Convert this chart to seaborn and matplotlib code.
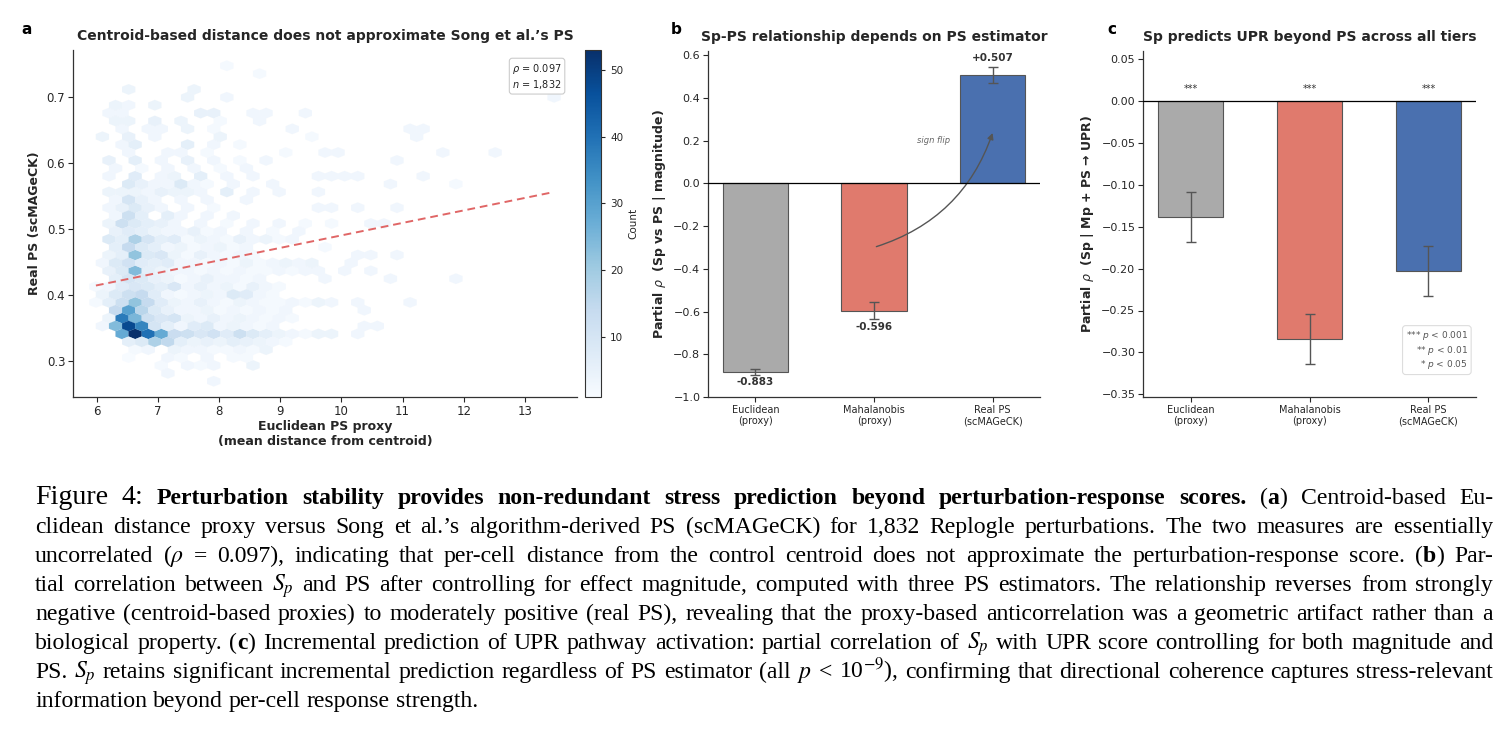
import numpy as np
import pandas as pd
import matplotlib
matplotlib.use("Agg")
import matplotlib.pyplot as plt
import seaborn as sns

# ------------------------------------------------------------------ data
# Panel a: hexbin cells: (y centre, x centres, counts)
HEX_ROWS = [
    (0.270, [7.91], [3]),
    (0.282, [7.16], [3]),
    (0.294, [7.05, 7.48, 7.69, 7.91, 8.55], [2, 3, 2, 3, 4]),
    (0.306, [6.52, 7.16, 7.37, 7.80, 8.23, 8.44], [1, 3, 2, 3, 2, 2]),
    (0.318, [6.62, 6.84, 7.27, 7.48, 7.69, 7.91, 8.12, 8.34, 8.55, 8.77],
     [2, 3, 4, 3, 3, 2, 2, 3, 2, 4]),
    (0.330, [6.52, 6.73, 6.94, 7.16, 7.37, 7.59, 7.80, 8.02, 8.23, 8.44, 8.66, 8.87, 9.09],
     [6, 8, 18, 15, 6, 4, 5, 4, 6, 5, 4, 3, 2]),
    (0.342, [6.41, 6.62, 6.84, 7.05, 7.27, 7.48, 7.69, 7.91, 8.12, 8.34, 8.55, 8.77, 8.98,
             9.19, 9.41, 9.62, 9.84, 10.27],
     [28, 53, 40, 28, 13, 12, 9, 11, 7, 12, 8, 6, 4, 3, 2, 4, 4, 3]),
    (0.354, [6.09, 6.30, 6.52, 6.73, 6.94, 7.16, 7.37, 7.59, 7.80, 8.02, 8.23, 8.44, 8.66,
             8.87, 10.37, 10.59],
     [3, 24, 48, 36, 10, 6, 3, 7, 8, 3, 4, 3, 2, 3, 3, 3]),
    (0.366, [6.19, 6.41, 6.62, 6.84, 7.05, 7.27, 7.48, 7.69, 7.91, 8.12, 8.34, 8.55, 8.77,
             8.98, 9.19],
     [4, 38, 25, 12, 9, 10, 4, 3, 5, 3, 4, 3, 2, 3, 2]),
    (0.378, [6.30, 6.52, 6.73, 6.94, 7.16, 7.37, 7.59, 7.80, 8.02, 8.23, 8.44, 8.66, 8.87,
             9.09, 10.37],
     [14, 30, 16, 8, 5, 3, 3, 4, 2, 3, 2, 3, 2, 3, 3]),
    (0.390, [5.98, 6.19, 6.41, 6.62, 6.84, 7.05, 7.27, 7.48, 7.69, 7.91, 8.12, 8.34, 8.55,
             8.77, 8.98, 9.19, 9.41, 9.62, 9.84, 10.27, 11.12],
     [2, 6, 12, 22, 14, 7, 4, 3, 5, 3, 2, 4, 3, 2, 2, 3, 2, 4, 3, 3, 3]),
    (0.401, [6.09, 6.30, 6.52, 6.73, 6.94, 7.16, 7.37, 7.59, 7.80, 8.02, 8.23, 8.44, 8.66, 8.87],
     [4, 8, 12, 14, 7, 3, 2, 3, 4, 3, 8, 7, 3, 2]),
    (0.413, [5.98, 6.19, 6.41, 6.62, 6.84, 7.05, 7.27, 7.48, 7.69, 7.91, 8.12, 8.34, 8.55,
             8.77, 8.98],
     [2, 3, 7, 9, 8, 6, 9, 3, 5, 3, 4, 2, 5, 3, 2]),
    (0.425, [6.30, 6.52, 6.73, 6.94, 7.16, 7.37, 7.59, 7.80, 8.02, 8.23, 8.44, 8.66, 9.73,
             10.80, 11.87],
     [6, 10, 8, 5, 4, 2, 3, 5, 3, 3, 2, 3, 3, 3, 3]),
    (0.437, [6.19, 6.41, 6.62, 6.84, 7.05, 7.27, 7.48, 7.69, 7.91, 8.12, 8.34, 8.55, 8.77,
             8.98, 9.19, 9.41, 9.62, 10.05, 10.48],
     [5, 8, 24, 6, 4, 3, 3, 2, 3, 2, 3, 2, 2, 3, 2, 3, 3, 3, 3]),
    (0.449, [6.09, 6.30, 6.52, 6.73, 6.94, 7.16, 7.37, 7.59, 7.80, 8.02, 8.23, 8.44, 8.66,
             8.87, 9.09, 9.30, 9.52, 10.16],
     [3, 8, 11, 7, 6, 7, 3, 3, 2, 3, 2, 4, 2, 3, 4, 3, 4, 3]),
    (0.461, [6.19, 6.41, 6.62, 6.84, 7.05, 7.27, 7.48, 7.69, 7.91, 8.12, 8.34, 8.55, 10.27,
             10.48, 10.91],
     [4, 6, 22, 8, 9, 4, 2, 5, 3, 2, 3, 2, 3, 3, 3]),
    (0.473, [6.30, 6.52, 6.73, 6.94, 7.16, 7.37, 7.59, 7.80, 8.02, 8.23, 8.44, 9.73],
     [6, 14, 8, 6, 3, 4, 2, 3, 4, 2, 3, 2]),
    (0.485, [6.19, 6.41, 6.62, 6.84, 7.05, 7.27, 7.48, 7.69, 7.91, 8.12, 8.34, 8.55, 8.77,
             8.98, 9.19],
     [8, 6, 18, 10, 6, 7, 2, 4, 3, 2, 5, 3, 4, 2, 3]),
    (0.497, [6.30, 6.52, 6.73, 6.94, 7.16, 7.37, 7.59, 7.80, 8.02, 8.44, 8.87, 9.30],
     [5, 7, 6, 4, 3, 3, 5, 2, 3, 3, 2, 3]),
    (0.509, [6.19, 6.41, 6.62, 6.84, 7.05, 7.27, 7.69, 8.12, 8.55, 8.98, 9.41, 9.84, 10.48, 10.69],
     [4, 12, 8, 6, 5, 3, 3, 2, 3, 3, 2, 2, 3, 3]),
    (0.521, [6.30, 6.52, 6.73, 7.16, 7.37, 7.80, 8.23], [3, 12, 6, 6, 3, 3, 3]),
    (0.533, [6.19, 6.41, 6.62, 6.84, 7.05, 7.48, 7.91, 9.62, 9.84, 10.27, 10.91],
     [3, 5, 8, 5, 3, 3, 2, 3, 3, 3, 3]),
    (0.545, [6.30, 6.52, 6.73, 6.94, 7.37, 7.80, 8.44], [3, 10, 5, 3, 3, 3, 3]),
    (0.557, [6.19, 6.41, 6.62, 6.84, 7.05, 7.27, 7.48, 7.69, 8.12, 8.55, 8.98, 9.62],
     [4, 4, 4, 3, 5, 4, 4, 3, 6, 3, 3, 3]),
    (0.569, [6.52, 6.73, 6.94, 7.16, 7.37, 7.59, 7.80, 8.23, 8.87, 10.80, 11.87],
     [8, 5, 3, 3, 8, 3, 2, 3, 3, 3, 2]),
    (0.581, [6.19, 6.62, 7.05, 7.27, 7.69, 8.12, 8.55, 9.62, 9.84, 10.05, 10.27, 11.34],
     [3, 7, 3, 4, 6, 3, 3, 3, 3, 3, 3, 3]),
    (0.593, [6.30, 6.73, 7.16, 7.59, 8.02, 8.44], [3, 2, 3, 3, 2, 3]),
    (0.605, [6.19, 6.62, 7.05, 7.48, 7.91, 8.34, 8.77, 10.91], [5, 6, 3, 5, 3, 2, 3, 3]),
    (0.617, [6.52, 7.16, 7.37, 7.80, 9.09, 9.73, 9.94, 11.66, 12.52], [3, 3, 3, 2, 2, 3, 3, 3, 3]),
    (0.629, [6.41, 6.62, 7.48, 7.91, 8.34], [3, 6, 6, 3, 2]),
    (0.640, [6.09, 6.52, 6.94, 8.02, 9.52, 11.23], [4, 5, 3, 4, 2, 3]),
    (0.652, [6.41, 6.84, 7.05, 7.48, 7.91, 9.19, 11.12, 11.34], [3, 3, 3, 4, 2, 3, 3, 3]),
    (0.664, [6.30, 6.52, 6.94, 7.37, 8.02, 8.66], [4, 4, 5, 4, 2, 3]),
    (0.676, [6.19, 6.41, 7.69, 7.91, 8.55, 8.77, 9.41], [3, 3, 5, 5, 3, 3, 3]),
    (0.688, [6.30, 6.52, 6.94], [4, 3, 4]),
    (0.700, [7.48, 8.12, 13.48], [4, 3, 3]),
    (0.712, [6.52, 7.59], [4, 4]),
    (0.736, [8.66], [2]),
    (0.748, [8.12], [2]),
]
hex_x = [x for y, xs, ns in HEX_ROWS for x in xs]
hex_y = [y for y, xs, ns in HEX_ROWS for x in xs]
hex_n = [n for y, xs, ns in HEX_ROWS for n in ns]

rho_a = 0.097
n_a = 1832
fit_intercept = 0.302
fit_slope = 0.0189

estimators = ["Euclidean\n(proxy)", "Mahalanobis\n(proxy)", "Real PS\n(scMAGeCK)"]
b_values = [-0.883, -0.596, 0.507]
b_err = [0.012, 0.040, 0.037]
b_labels = ["-0.883", "-0.596", "+0.507"]
c_values = [-0.139, -0.284, -0.203]
c_err = [0.030, 0.030, 0.030]
c_stars = ["***", "***", "***"]
b_ticks = [-1.0, -0.8, -0.6, -0.4, -0.2, 0.0, 0.2, 0.4, 0.6]
c_ticks = [-0.35, -0.30, -0.25, -0.20, -0.15, -0.10, -0.05, 0.0, 0.05]
bar_colors = ["#AAAAAA", "#E07A6D", "#4A70AF"]

CAPTION_LINES = [
    [("Figure 4:", "F"),
     (" Perturbation stability provides non-redundant stress prediction beyond perturbation-response scores.", "b"),
     (" (", "r"), ("a", "b"), (") Centroid-based Eu-", "r")],
    [("clidean distance proxy versus Song et al.’s algorithm-derived PS (scMAGeCK) for 1,832 Replogle perturbations.  The two measures are essentially", "r")],
    [("uncorrelated ($\\rho$ = 0.097), indicating that per-cell distance from the control centroid does not approximate the perturbation-response score. (", "r"),
     ("b", "b"), (") Par-", "r")],
    [("tial correlation between $S_p$ and PS after controlling for effect magnitude, computed with three PS estimators. The relationship reverses from strongly", "r")],
    [("negative (centroid-based proxies) to moderately positive (real PS), revealing that the proxy-based anticorrelation was a geometric artifact rather than a", "r")],
    [("biological property. (", "r"), ("c", "b"),
     (") Incremental prediction of UPR pathway activation: partial correlation of $S_p$ with UPR score controlling for both magnitude and", "r")],
    [("PS. $S_p$ retains significant incremental prediction regardless of PS estimator (all $p$ < 10$^{-9}$), confirming that directional coherence captures stress-relevant", "r")],
    [("information beyond per-cell response strength.", "r")],
]

# ------------------------------------------------------------------ style
sns.set_theme(style="ticks")
plt.rcParams["font.family"] = ["DejaVu Sans"]
plt.rcParams["axes.linewidth"] = 0.9
plt.rcParams["axes.edgecolor"] = "#333333"

W, H = 1499, 729
fig = plt.figure(figsize=(W / 100, H / 100), dpi=100)
fig.patch.set_facecolor("white")


def px_axes(l, t, r, b):
    return fig.add_axes([l / W, 1 - b / H, (r - l) / W, (b - t) / H])


ax_a = px_axes(73, 50, 577, 397)
cax = px_axes(585, 50, 601, 397)
ax_b = px_axes(708, 51, 1040, 397)
ax_c = px_axes(1143, 51, 1476, 397)

# ------------------------------------------------------------------ panel a
hb = ax_a.hexbin(hex_x, hex_y, C=hex_n, reduce_C_function=np.sum, gridsize=35,
                 extent=(min(hex_x), max(hex_x), min(hex_y), max(hex_y)),
                 cmap="Blues", vmin=1, vmax=53, linewidths=0.1, edgecolors="face")
fit_x = np.array([min(hex_x), max(hex_x)])
sns.lineplot(x=fit_x, y=fit_intercept + fit_slope * fit_x, ax=ax_a,
             color="#E06666", lw=1.4, linestyle=(0, (4, 2.5)))
ax_a.set_xticks(range(6, 14))
ax_a.set_yticks([0.3, 0.4, 0.5, 0.6, 0.7])
ax_a.tick_params(labelsize=8.5, length=3.5, width=0.8, pad=2)
ax_a.set_xlabel("Euclidean PS proxy\n(mean distance from centroid)", fontsize=9,
                fontweight="bold", labelpad=2)
ax_a.set_ylabel("Real PS (scMAGeCK)", fontsize=9, fontweight="bold")
ax_a.set_title("Centroid-based distance does not approximate Song et al.’s PS",
               fontsize=10, fontweight="bold", pad=7)
ax_a.text(0.97, 0.965, f"$\\rho$ = {rho_a:.3f}\n$n$ = {n_a:,}", transform=ax_a.transAxes,
          ha="right", va="top", fontsize=7, color="#222222",
          bbox=dict(boxstyle="round,pad=0.3", fc="white", ec="#cccccc", lw=0.8))
sns.despine(ax=ax_a)

cb = fig.colorbar(hb, cax=cax)
cb.set_ticks([10, 20, 30, 40, 50])
cb.ax.tick_params(labelsize=7.5, length=3, width=0.8)
cb.set_label("Count", fontsize=7.5)
cb.outline.set_linewidth(0.8)

# ------------------------------------------------------------------ panel b
df_b = pd.DataFrame({"est": estimators, "val": b_values})
sns.barplot(data=df_b, x="est", y="val", hue="est", palette=bar_colors, width=0.55,
            edgecolor="#555555", linewidth=0.8, ax=ax_b, legend=False, saturation=1)
ax_b.errorbar(range(len(b_values)), b_values, yerr=b_err, fmt="none", ecolor="#555555",
              elinewidth=1.0, capsize=3.5, capthick=1.0, zorder=5)
ax_b.axhline(0, color="black", lw=0.9, zorder=4)
for i, (v, e, lab) in enumerate(zip(b_values, b_err, b_labels)):
    up = v > 0
    ax_b.annotate(lab, xy=(i, v + e if up else v - e), xytext=(0, 3 if up else -2),
                  textcoords="offset points", ha="center", va="bottom" if up else "top",
                  fontsize=7.5, fontweight="bold", color="#333333")
ax_b.annotate("", xy=(2.0, 0.236), xytext=(1.02, -0.296),
              arrowprops=dict(arrowstyle="-|>", color="#555555", lw=1.0,
                              connectionstyle="arc3,rad=0.25", mutation_scale=9,
                              shrinkA=0, shrinkB=0))
ax_b.text(1.5, 0.19, "sign flip", fontsize=6, style="italic", color="#666666", ha="center")
ax_b.set_xlim(-0.4, 2.4)
ax_b.set_ylim(-1.0, 0.62)
ax_b.set_yticks(b_ticks)
ax_b.tick_params(axis="y", labelsize=8, length=3.5, width=0.8, pad=2)
ax_b.tick_params(axis="x", labelsize=7, length=3.5, width=0.8, pad=2)
ax_b.set_xlabel("")
ax_b.set_ylabel("Partial $\\rho$  (Sp vs PS | magnitude)", fontsize=9, fontweight="bold")
ax_b.set_title("Sp-PS relationship depends on PS estimator", fontsize=10,
               fontweight="bold", pad=7)
sns.despine(ax=ax_b)

# ------------------------------------------------------------------ panel c
df_c = pd.DataFrame({"est": estimators, "val": c_values})
sns.barplot(data=df_c, x="est", y="val", hue="est", palette=bar_colors, width=0.55,
            edgecolor="#555555", linewidth=0.8, ax=ax_c, legend=False, saturation=1)
ax_c.errorbar(range(len(c_values)), c_values, yerr=c_err, fmt="none", ecolor="#555555",
              elinewidth=1.0, capsize=3.5, capthick=1.0, zorder=5)
ax_c.axhline(0, color="black", lw=0.9, zorder=4)
for i, s in enumerate(c_stars):
    ax_c.text(i, 0.008, s, ha="center", va="bottom", fontsize=7, color="#333333")
ax_c.text(0.976, 0.074, "*** $p$ < 0.001\n** $p$ < 0.01\n* $p$ < 0.05",
          transform=ax_c.transAxes, ha="right", va="bottom", fontsize=6.5,
          color="#555555", multialignment="right",
          bbox=dict(boxstyle="round,pad=0.35", fc="white", ec="#dddddd", lw=0.8))
ax_c.set_xlim(-0.4, 2.4)
ax_c.set_ylim(-0.353, 0.059)
ax_c.set_yticks(c_ticks)
ax_c.tick_params(axis="y", labelsize=8, length=3.5, width=0.8, pad=2)
ax_c.tick_params(axis="x", labelsize=7, length=3.5, width=0.8, pad=2)
ax_c.set_xlabel("")
ax_c.set_ylabel("Partial $\\rho$  (Sp | Mp + PS → UPR)", fontsize=9, fontweight="bold")
ax_c.set_title("Sp predicts UPR beyond PS across all tiers", fontsize=10,
               fontweight="bold", pad=7)
sns.despine(ax=ax_c)

# ------------------------------------------------------------------ panel letters
for lab, xp in (("a", 27), ("b", 676), ("c", 1112)):
    fig.text(xp / W, 1 - 29 / H, lab, fontsize=11, fontweight="bold", ha="center",
             va="center", color="black")

# ------------------------------------------------------------------ caption
renderer = fig.canvas.get_renderer()
CAP_FAMILY = ["Liberation Serif", "DejaVu Serif"]
LEFT, RIGHT = 35, 1493
baseline0, leading = 504, 29


def styles(size):
    return {"r": dict(fontsize=size, fontweight="normal"),
            "b": dict(fontsize=size, fontweight="bold"),
            "F": dict(fontsize=size * 1.18, fontweight="normal")}


def text_width(s, st, size):
    t = fig.text(0, 0, s, family=CAP_FAMILY, math_fontfamily="stix", **styles(size)[st])
    w = t.get_window_extent(renderer).width
    t.remove()
    return w


def split_words(segs):
    words = [[]]
    for txt, st in segs:
        parts = txt.split(" ")
        for k, part in enumerate(parts):
            if k > 0:
                words.append([])
            if part:
                words[-1].append((part, st))
    return [w for w in words if w]


# choose the size so that the widest line just fits with normal word spaces
base = 15.0
space_base = text_width("a a", "r", base) - text_width("aa", "r", base)
naturals = []
for segs in CAPTION_LINES[:-1]:
    ws = split_words(segs)
    naturals.append(sum(text_width(p, st, base) for w in ws for p, st in w)
                    + (len(ws) - 1) * space_base)
cap_size = base * (RIGHT - LEFT) / max(naturals) * 0.995

space_w = text_width("a a", "r", cap_size) - text_width("aa", "r", cap_size)
for li, segs in enumerate(CAPTION_LINES):
    words = split_words(segs)
    widths = [[text_width(p, st, cap_size) for p, st in w] for w in words]
    total = sum(sum(ws) for ws in widths)
    last = li == len(CAPTION_LINES) - 1
    gap = space_w if (last or len(words) < 2) else (RIGHT - LEFT - total) / (len(words) - 1)
    x = LEFT
    yb = 1 - (baseline0 + li * leading) / H
    for w, ws in zip(words, widths):
        for (p, st), pw in zip(w, ws):
            fig.text(x / W, yb, p, family=CAP_FAMILY, math_fontfamily="stix",
                     ha="left", va="baseline", color="black", **styles(cap_size)[st])
            x += pw
        x += gap

fig.savefig("out.png", dpi=100, facecolor="white")
